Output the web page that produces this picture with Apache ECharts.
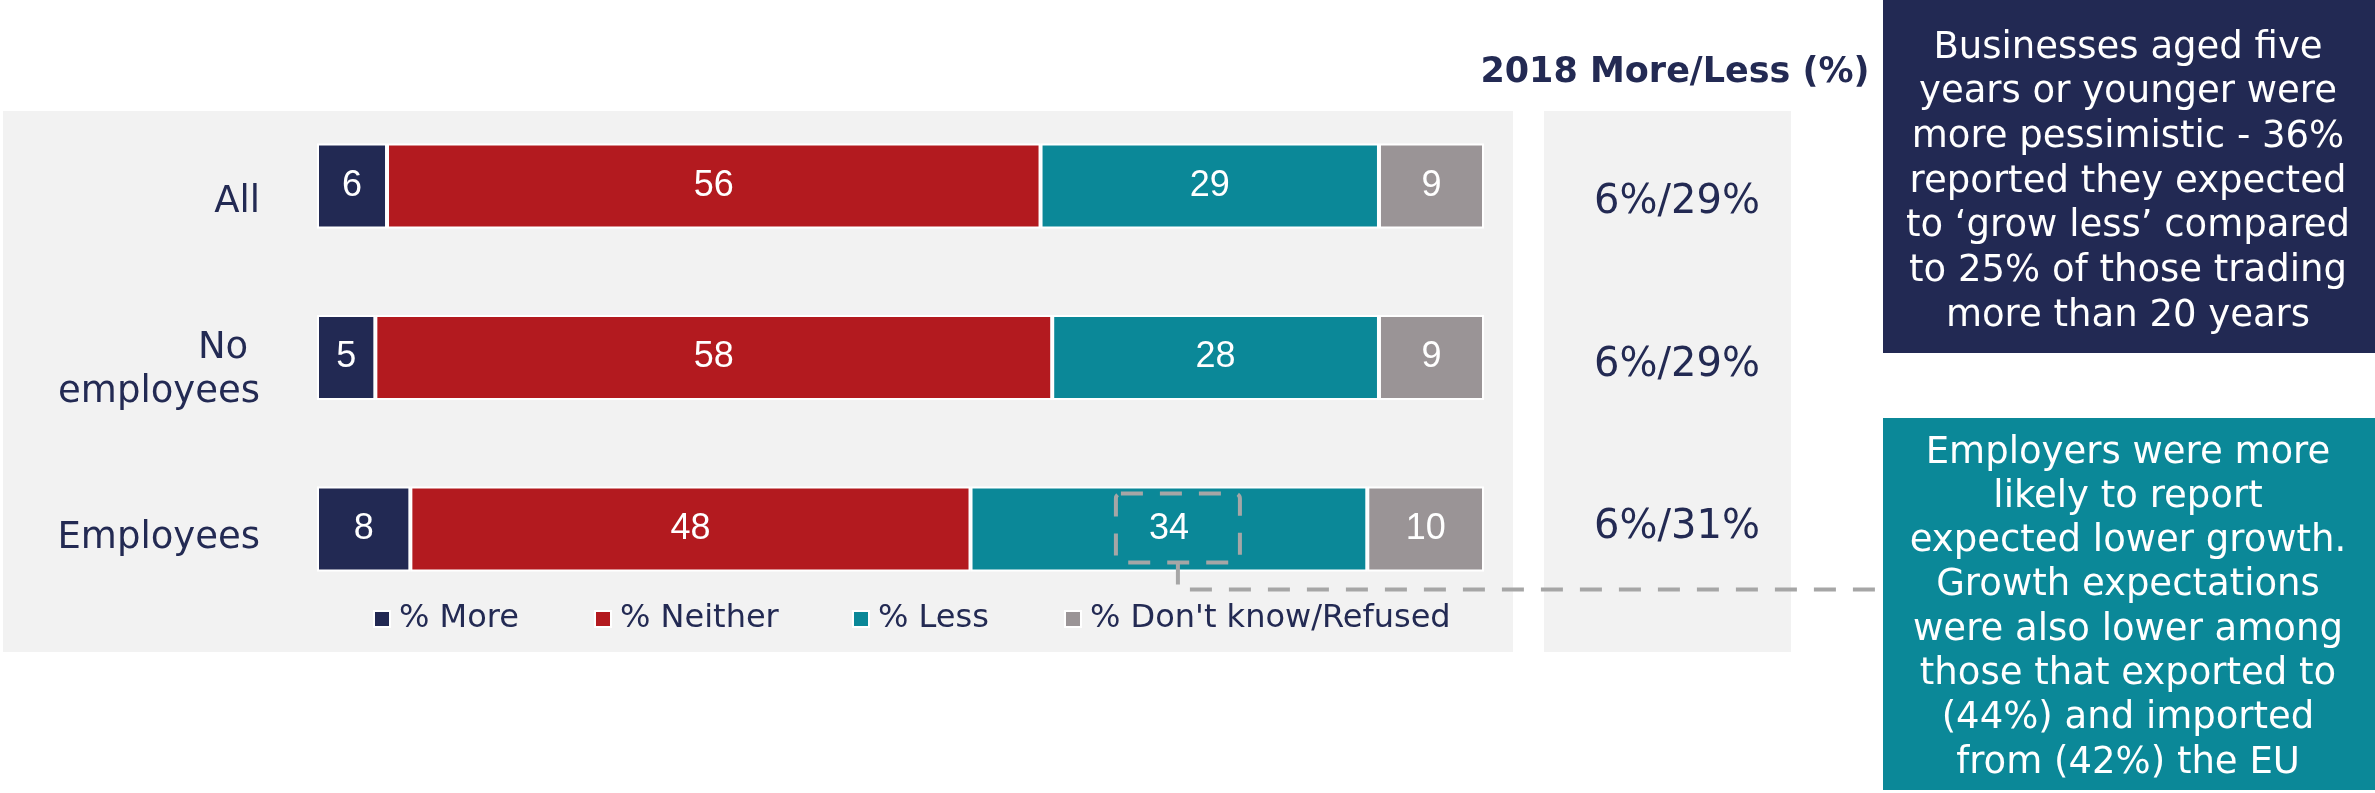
<!DOCTYPE html>
<html>
<head>
<meta charset="utf-8">
<script src="https://cdn.jsdelivr.net/npm/echarts@6/dist/echarts.min.js"></script>
<style>
  html, body { margin: 0; padding: 0; background: #ffffff; }
  #chart { width: 2375px; height: 793px; }
</style>
</head>
<body>
<div id="chart"></div>
<script>
// Growth expectations by business size (%)
const categories = ['All', 'No employees', 'Employees'];
const seriesNames = ['% More', '% Neither', '% Less', "% Don't know/Refused"];
const more = [6, 5, 8];
const neither = [56, 58, 48];
const less = [29, 28, 34];
const dontKnow = [9, 9, 10];

// Previous wave: more / less (%)
const more2018 = [6, 6, 6];
const less2018 = [29, 29, 31];
const compareTitle = '2018 More/Less (%)';

const navyNote = 'Businesses aged five\nyears or younger were\nmore pessimistic - 36%\nreported they expected\nto \u2018grow less\u2019 compared\nto 25% of those trading\nmore than 20 years';
const tealNote = 'Employers were more\nlikely to report\nexpected lower growth.\nGrowth expectations\nwere also lower among\nthose that exported to\n(44%) and imported\nfrom (42%) the EU';

const palette = ['#222953', '#b31a1f', '#0b8898', '#9a9496'];
const ink = '#232a53';
const panel = '#f2f2f2';
const dash = '#a6a6a6';
const font = 'DejaVu Sans';

const values = [more, neither, less, dontKnow];
const legendLeft = [373, 594, 852, 1064];

const chart = echarts.init(document.getElementById('chart'));

const barSeries = seriesNames.map((name, i) => ({
  name: name,
  type: 'bar',
  stack: 'total',
  xAxisIndex: 0,
  yAxisIndex: 0,
  barWidth: 85,
  data: values[i],
  itemStyle: { color: palette[i], borderColor: '#ffffff', borderWidth: 2 },
  label: {
    show: true,
    position: 'inside',
    color: '#ffffff',
    fontFamily: 'Liberation Sans',
    fontSize: 36
  },
  emphasis: { disabled: true }
}));

const compareSeries = {
  type: 'scatter',
  xAxisIndex: 1,
  yAxisIndex: 1,
  symbolSize: 1,
  silent: true,
  itemStyle: { color: 'transparent', opacity: 1 },
  data: categories.map((c) => [0.5, c]),
  label: {
    show: true,
    position: 'inside',
    color: ink,
    fontFamily: font,
    fontSize: 40,
    formatter: (p) => more2018[p.dataIndex] + '%/' + less2018[p.dataIndex] + '%'
  }
};

chart.setOption({
  animation: false,
  backgroundColor: '#ffffff',
  textStyle: { fontFamily: font },
  legend: seriesNames.map((name, i) => ({
    data: [name],
    left: legendLeft[i],
    top: 603,
    padding: 0,
    itemWidth: 16,
    itemHeight: 16,
    icon: 'rect',
    selectedMode: false,
    textStyle: { color: ink, fontFamily: font, fontSize: 32, padding: [0, 0, 0, 4] }
  })),
  grid: [
    { left: 317, right: 891, top: 100.25, height: 514.5 },
    { left: 1545, width: 264, top: 121.75, height: 487.5 },
    { left: 317, right: 891, top: 118, height: 504 }
  ],
  xAxis: [
    { type: 'value', gridIndex: 0, min: 0, max: 100, show: false },
    { type: 'value', gridIndex: 1, min: 0, max: 1, show: false },
    { type: 'value', gridIndex: 2, min: 0, max: 100, show: false }
  ],
  yAxis: [
    { type: 'category', gridIndex: 0, data: categories, inverse: true, show: false },
    { type: 'category', gridIndex: 1, data: categories, inverse: true, show: false },
    {
      type: 'category', gridIndex: 2, data: categories, inverse: true,
      axisLine: { show: false }, axisTick: { show: false }, splitLine: { show: false },
      axisLabel: {
        color: ink, fontFamily: font, fontSize: 37, margin: 57,
        width: 215, overflow: 'break', lineHeight: 44, align: 'right'
      }
    }
  ],
  series: barSeries.concat([compareSeries])
});

// Highlight box around the "% Less" value for employers, linked to the note
const rowIdx = 2;
const cumCentre = more[rowIdx] + neither[rowIdx] + less[rowIdx] / 2;
const anchor = chart.convertToPixel({ gridIndex: 0 }, [cumCentre, categories[rowIdx]]);
const boxW = 124, boxH = 69;
const boxCx = anchor[0] + 9;
const boxCy = anchor[1] - 1;
const boxBottom = boxCy + boxH / 2;
const leaderY = boxBottom + 27;
const noteLeft = 1883;

chart.setOption({
  graphic: [
    { type: 'rect', z: -10, shape: { x: 3, y: 111, width: 1510, height: 541 }, style: { fill: panel }, silent: true },
    { type: 'rect', z: -10, shape: { x: 1544, y: 111, width: 247, height: 541 }, style: { fill: panel }, silent: true },
    {
      type: 'text', z: 50, silent: true,
      style: {
        text: compareTitle, x: 1675, y: 73, textAlign: 'center', textVerticalAlign: 'middle',
        font: 'bold 35px "DejaVu Sans"', fill: ink
      }
    },
    {
      type: 'rect', z: 60, silent: true,
      shape: { x: boxCx - boxW / 2, y: boxCy - boxH / 2, width: boxW, height: boxH, r: 5 },
      style: { fill: 'none', stroke: dash, lineWidth: 4, lineDash: [22, 17] }
    },
    {
      type: 'polyline', z: 60, silent: true,
      shape: { points: [[boxCx, boxBottom], [boxCx, leaderY], [noteLeft, leaderY]] },
      style: { fill: 'none', stroke: dash, lineWidth: 4, lineDash: [22, 17] }
    },
    { type: 'rect', z: 70, silent: true, shape: { x: noteLeft, y: 0, width: 2375 - noteLeft, height: 353 }, style: { fill: '#222953' } },
    {
      type: 'text', z: 71, silent: true,
      style: {
        text: navyNote, x: 2128, y: 182, textAlign: 'center', textVerticalAlign: 'middle',
        font: '37px "DejaVu Sans"', lineHeight: 44.7, fill: '#ffffff'
      }
    },
    { type: 'rect', z: 70, silent: true, shape: { x: noteLeft, y: 418, width: 2375 - noteLeft, height: 372 }, style: { fill: '#0b8898' } },
    {
      type: 'text', z: 71, silent: true,
      style: {
        text: tealNote, x: 2128, y: 608, textAlign: 'center', textVerticalAlign: 'middle',
        font: '37px "DejaVu Sans"', lineHeight: 44.3, fill: '#ffffff'
      }
    }
  ]
});
</script>
</body>
</html>
